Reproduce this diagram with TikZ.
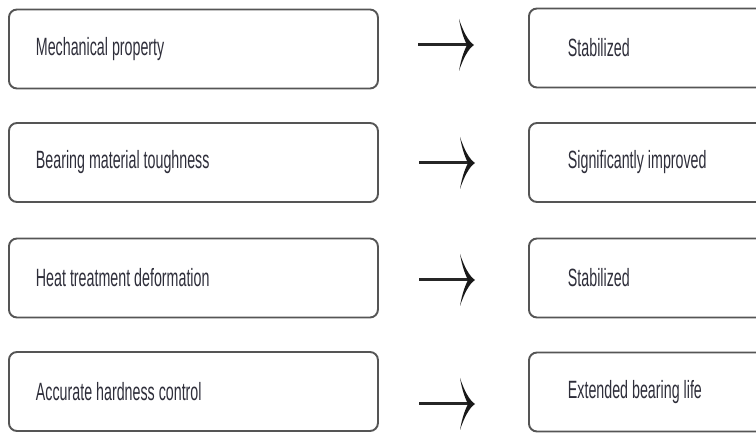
\documentclass[tikz,border=0pt]{standalone}
\usepackage{fontspec}
\setmainfont{Liberation Sans}
\newfontfamily\condfont[FakeStretch=0.57]{Liberation Sans}
\DeclareRobustCommand\myboxfont{\condfont\fontsize{25}{28}\selectfont\spaceskip=4pt plus 1pt minus 1pt\relax}
\usetikzlibrary{arrows.meta}
\definecolor{boxline}{HTML}{555555}
\definecolor{txt}{HTML}{2E2E3A}
\begin{document}
\begin{tikzpicture}[x=1pt,y=-1pt,
  item/.style={draw=boxline, line width=1.9pt, rounded corners=8pt, fill=white,
    anchor=west, minimum height=79pt, align=left, text=txt},
  leftbox/.style={item, inner xsep=27pt, text width=315pt},
  rightbox/.style={item, inner xsep=39pt, text width=200pt},
  conn/.style={draw=black!85, line width=3pt},
  headshape/.pic={\fill[black!90] (0,0) .. controls (-6,-4) and (-11,-14) .. (-15,-26)
      .. controls (-13,-14) and (-10,-6) .. (-7,0)
      .. controls (-10,6) and (-13,14) .. (-15,26)
      .. controls (-11,14) and (-6,4) .. (0,0) -- cycle;}]
\clip (0,0) rectangle (756,435);
\useasboundingbox (0,0) rectangle (756,435);
\fill[white] (0,0) rectangle (756,435);
% left column
\node[leftbox] (l1) at (8,49) {\myboxfont Mechanical property};
\node[leftbox] (l2) at (8,162.5) {\myboxfont Bearing material toughness};
\node[leftbox] (l3) at (8,278) {\myboxfont Heat treatment deformation};
\node[leftbox] (l4) at (8,391.5) {\myboxfont Accurate hardness control};
% right column
\node[rightbox] (r1) at (528,48) {\myboxfont Stabilized};
\node[rightbox] (r2) at (528,162.5) {\myboxfont Significantly improved};
\node[rightbox] (r3) at (528,278) {\myboxfont Stabilized};
\node[rightbox] (r4) at (528,392) {\myboxfont Extended bearing life};
% arrows
\coordinate (a1s) at (418,45);  \coordinate (a1e) at (474,45);
\coordinate (a2s) at (419,163); \coordinate (a2e) at (475,163);
\coordinate (a3s) at (419,280); \coordinate (a3e) at (475,280);
\coordinate (a4s) at (419,404); \coordinate (a4e) at (475,404);
\foreach \i in {1,2,3,4}{
  \draw[conn] (a\i s) -- ([xshift=-6pt]a\i e);
  \pic at (a\i e) {headshape};
}
\end{tikzpicture}
\end{document}
